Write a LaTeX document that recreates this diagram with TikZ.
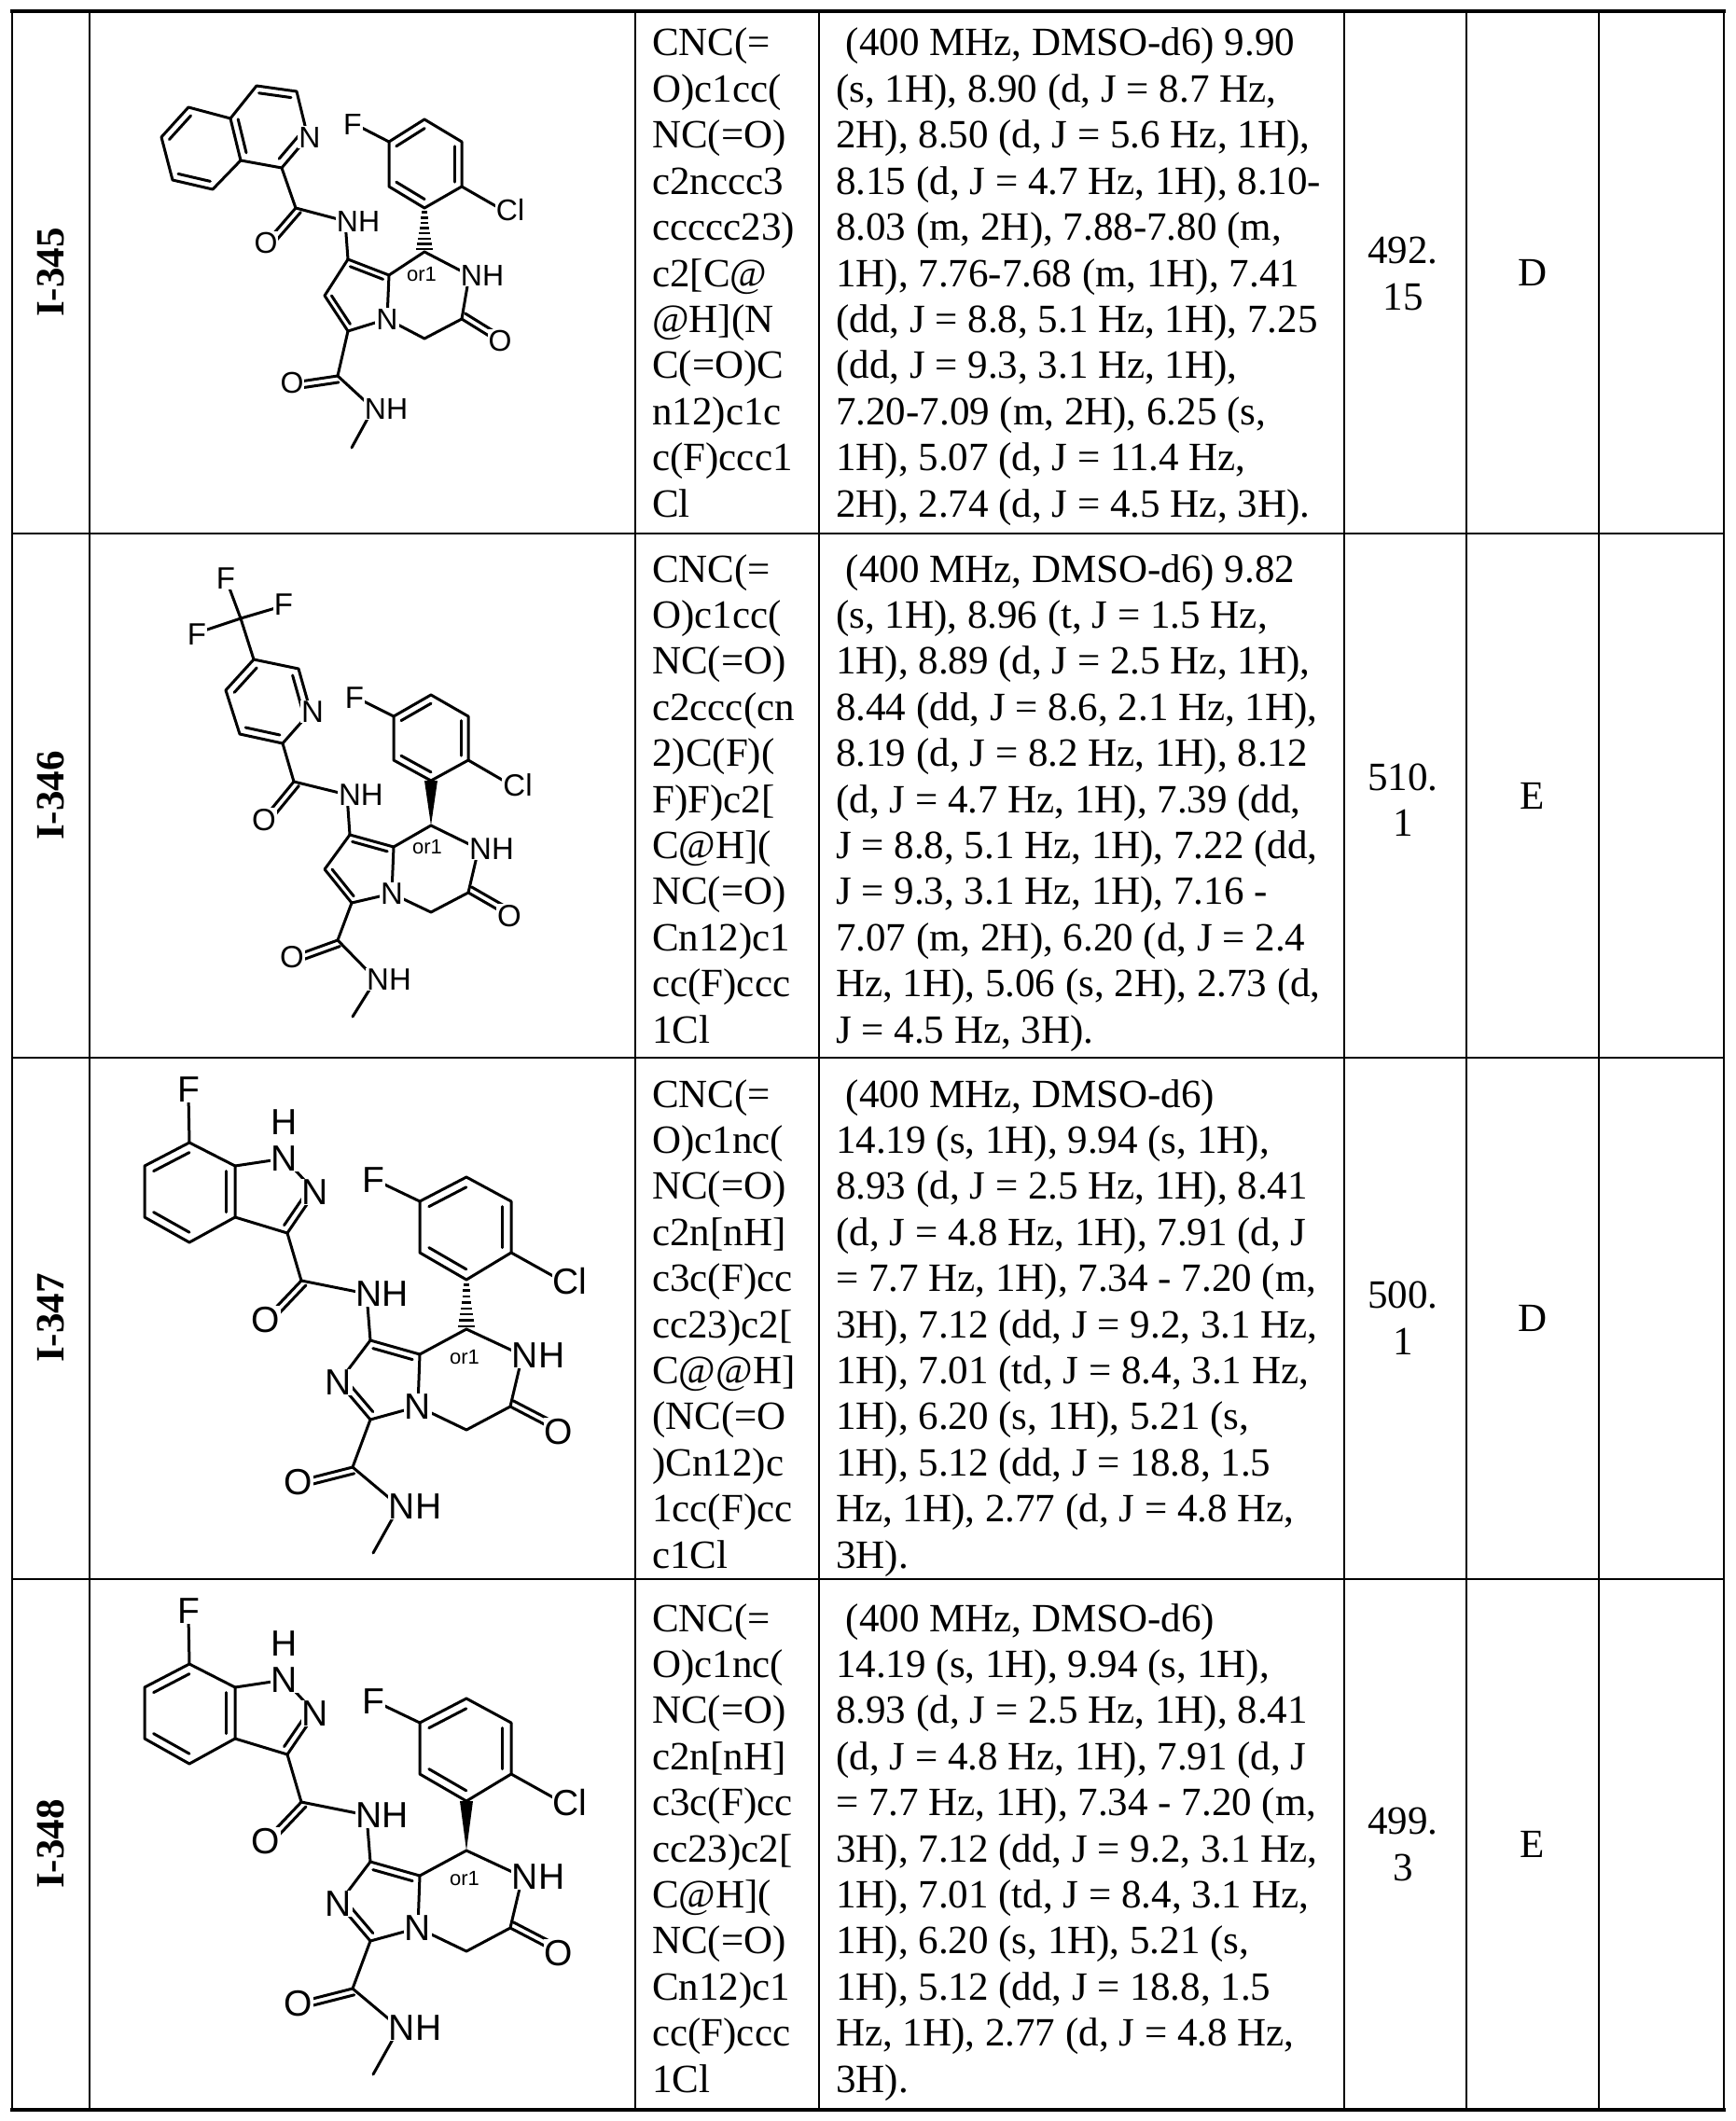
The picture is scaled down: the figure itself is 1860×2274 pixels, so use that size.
\documentclass[tikz,border=0pt]{standalone}
\usepackage{fontspec}
\setmainfont{Liberation Serif}
\newfontfamily\arial{Liberation Sans}
\usetikzlibrary{calc}
\newcommand\inb[3]{\draw ($(#1)!0.2!(#3)$) -- ($(#2)!0.2!(#3)$);}
\newcommand\exo[2]{\draw ($(#1)!7pt!90:(#2)$) -- ($(#2)!7pt!-90:(#1)$);}
\newcommand\hsh[2]{\foreach \t in {0.1,0.22,...,0.95}{\draw[line width=2.4pt,line cap=butt] ($(#1)!\t!(#2)$) ++(-2-7*\t,0) -- ++(4+14*\t,0);}}
\newcommand\wdg[2]{\fill (#1) -- ($(#2)+(-7,0)$) -- ($(#2)+(7,0)$) -- cycle;}
\newcommand\txtlines[3]{\foreach \s [count=\i] in {#3}{\node[txt] at (#1,#2+14+49.4*\i-49.4) {\s};}}
\tikzset{
  txt/.style={anchor=base west,inner sep=0pt,font=\fontsize{43}{49.4}\selectfont},
  ctxt/.style={anchor=base,inner sep=0pt,font=\fontsize{43}{49.4}\selectfont},
  idt/.style={rotate=90,inner sep=0pt,font=\fontsize{43}{49.4}\selectfont\bfseries},
  lab/.style={fill=white,inner sep=1pt,font=\arial\fontsize{\labsz}{\labsz}\selectfont},
  orl/.style={inner sep=0pt,font=\arial\fontsize{22}{22}\selectfont},
  grid/.style={line width=2.6pt},
  bond/.style={line width=3pt,line join=round,line cap=round}
}
\def\labsz{28}
\begin{document}
\begin{tikzpicture}[x=1pt,y=-1pt]
\useasboundingbox (0,0) rectangle (1860,2274);
\fill[white] (0,0) rectangle (1860,2274);
% grid
\foreach \xx in {13,96,681,878,1441,1572,1714,1848}{\draw[grid] (\xx,12) -- (\xx,2262);}
\foreach \yy in {572,1134,1693}{\draw[grid] (13,\yy) -- (1848,\yy);}
\draw[line width=3.5pt] (11,12) -- (1850,12);
\draw[line width=3.5pt] (11,2262) -- (1850,2262);
% IDs
\node[idt] (id1) at (54,292) {I-345};
\node[idt] (id2) at (54,853) {I-346};
\node[idt] (id3) at (54,1413) {I-347};
\node[idt] (id4) at (54,1977) {I-348};
% mass / class
\node[ctxt] (m1a) at (1504,283) {492.}; \node[ctxt] (m1b) at (1504,332) {15};
\node[ctxt] (m2a) at (1504,847) {510.}; \node[ctxt] (m2b) at (1504,896) {1};
\node[ctxt] (m3a) at (1504,1402) {500.}; \node[ctxt] (m3b) at (1504,1452) {1};
\node[ctxt] (m4a) at (1504,1966) {499.}; \node[ctxt] (m4b) at (1504,2016) {3};
\node[ctxt] (c1) at (1643,306) {D};
\node[ctxt] (c2) at (1643,867) {E};
\node[ctxt] (c3) at (1643,1427) {D};
\node[ctxt] (c4) at (1643,1991) {E};
% SMILES
\txtlines{699}{46}{CNC(=,O)c1cc(,NC(=O),c2nccc3,ccccc23),c2[C@,@H](N,C(=O)C,n12)c1c,c(F)ccc1,Cl}
\txtlines{699}{610}{CNC(=,O)c1cc(,NC(=O),c2ccc(cn,{2)C(F)(},F)F)c2[,C@H](,NC(=O),Cn12)c1,cc(F)ccc,1Cl}
\txtlines{699}{1173}{CNC(=,O)c1nc(,NC(=O),c2n[nH],c3c(F)cc,cc23)c2[,C@@H],{(NC(=O},{)Cn12)c},1cc(F)cc,c1Cl}
\txtlines{699}{1735}{CNC(=,O)c1nc(,NC(=O),c2n[nH],c3c(F)cc,cc23)c2[,C@H](,NC(=O),Cn12)c1,cc(F)ccc,1Cl}
% NMR
\txtlines{896}{46}{{\ (400 MHz, DMSO-d6) 9.90},{(s, 1H), 8.90 (d, J = 8.7 Hz,},{2H), 8.50 (d, J = 5.6 Hz, 1H),},{8.15 (d, J = 4.7 Hz, 1H), 8.10-},{8.03 (m, 2H), 7.88-7.80 (m,},{1H), 7.76-7.68 (m, 1H), 7.41},{(dd, J = 8.8, 5.1 Hz, 1H), 7.25},{(dd, J = 9.3, 3.1 Hz, 1H),},{7.20-7.09 (m, 2H), 6.25 (s,},{1H), 5.07 (d, J = 11.4 Hz,},{2H), 2.74 (d, J = 4.5 Hz, 3H).}}
\txtlines{896}{610}{{\ (400 MHz, DMSO-d6) 9.82},{(s, 1H), 8.96 (t, J = 1.5 Hz,},{1H), 8.89 (d, J = 2.5 Hz, 1H),},{8.44 (dd, J = 8.6, 2.1 Hz, 1H),},{8.19 (d, J = 8.2 Hz, 1H), 8.12},{(d, J = 4.7 Hz, 1H), 7.39 (dd,},{J = 8.8, 5.1 Hz, 1H), 7.22 (dd,},{J = 9.3, 3.1 Hz, 1H), 7.16 -},{7.07 (m, 2H), 6.20 (d, J = 2.4},{Hz, 1H), 5.06 (s, 2H), 2.73 (d,},{J = 4.5 Hz, 3H).}}
\txtlines{896}{1173}{{\ (400 MHz, DMSO-d6)},{14.19 (s, 1H), 9.94 (s, 1H),},{8.93 (d, J = 2.5 Hz, 1H), 8.41},{(d, J = 4.8 Hz, 1H), 7.91 (d, J},{= 7.7 Hz, 1H), 7.34 - 7.20 (m,},{3H), 7.12 (dd, J = 9.2, 3.1 Hz,},{1H), 7.01 (td, J = 8.4, 3.1 Hz,},{1H), 6.20 (s, 1H), 5.21 (s,},{1H), 5.12 (dd, J = 18.8, 1.5},{Hz, 1H), 2.77 (d, J = 4.8 Hz,},{3H).}}
\txtlines{896}{1735}{{\ (400 MHz, DMSO-d6)},{14.19 (s, 1H), 9.94 (s, 1H),},{8.93 (d, J = 2.5 Hz, 1H), 8.41},{(d, J = 4.8 Hz, 1H), 7.91 (d, J},{= 7.7 Hz, 1H), 7.34 - 7.20 (m,},{3H), 7.12 (dd, J = 9.2, 3.1 Hz,},{1H), 7.01 (td, J = 8.4, 3.1 Hz,},{1H), 6.20 (s, 1H), 5.21 (s,},{1H), 5.12 (dd, J = 18.8, 1.5},{Hz, 1H), 2.77 (d, J = 4.8 Hz,},{3H).}}
% ===== structure 1 =====
\begin{scope}[bond]
\def\labsz{32}
\draw (302,180)--(330,147)--(318,98)--(275,92)--(247,127)--(258,172)--cycle;
\draw (247,127)--(202,115)--(173,147)--(185,193)--(228,203)--(258,172);
\inb{302,180}{330,147}{288,131}\inb{318,98}{275,92}{288,131}\inb{247,127}{258,172}{288,131}
\inb{202,115}{173,147}{215,160}\inb{185,193}{228,203}{215,160}
\draw (302,180)--(317,223)--(370,237)--(373,278); \exo{317,223}{285,260}\draw (317,223)--(285,260);
\draw (373,278)--(417,295)--(415,342)--(373,355)--(348,317)--cycle;
\inb{373,278}{417,295}{385,317}\inb{348,317}{373,355}{385,317}
\draw (417,295)--(455,270)--(503,295)--(495,342)--(455,363)--(415,342);
\draw (495,342)--(532,365); \exo{495,342}{532,365}
\draw (455,223)--(495,200)--(495,152)--(455,128)--(417,152)--(417,200)--cycle;
\inb{495,200}{495,152}{456,176}\inb{455,128}{417,152}{456,176}\inb{417,200}{455,223}{456,176}
\draw (495,200)--(535,223); \draw (417,152)--(380,133);
\hsh{455,223}{455,270}
\draw (373,355)--(362,403)--(400,438)--(377,480); \draw (362,403)--(315,410); \exo{362,403}{315,410}
\node[lab] (n1a) at (332,147) {N};
\node[lab] (n1b) at (384,237) {NH};
\node[lab] (n1c) at (285,260) {O};
\node[lab] (n1d) at (378,133) {F};
\node[lab] (n1e) at (547,225) {Cl};
\node[lab] (n1f) at (415,342) {N};
\node[lab] (n1g) at (517,295) {NH};
\node[lab] (n1h) at (536,365) {O};
\node[lab] (n1i) at (313,410) {O};
\node[lab] (n1j) at (414,438) {NH};
\node[orl] (o1) at (452,294) {or1};
\end{scope}
% ===== structure 2 =====
\begin{scope}[bond]
\def\labsz{33}
\draw (258,663)--(242,620); \draw (258,663)--(302,650); \draw (258,663)--(213,678); \draw (258,663)--(272,707);
\draw (272,707)--(320,717)--(333,763)--(303,797)--(257,787)--(242,740)--cycle;
\inb{272,707}{242,740}{288,752}\inb{320,717}{333,763}{288,752}\inb{303,797}{257,787}{288,752}
\draw (303,797)--(315,838)--(372,852)--(375,895); \draw (315,838)--(283,877); \exo{315,838}{283,877}
\draw (375,895)--(422,908)--(420,958)--(377,968)--(348,932)--cycle;
\inb{375,895}{422,908}{388,932}\inb{348,932}{377,968}{388,932}
\draw (422,908)--(462,885)--(513,910)--(502,957)--(462,978)--(420,958);
\draw (502,957)--(542,980); \exo{502,957}{542,980}
\draw (462,837)--(502,815)--(502,768)--(462,745)--(422,768)--(422,815)--cycle;
\inb{502,815}{502,768}{462,791}\inb{462,745}{422,768}{462,791}\inb{422,815}{462,837}{462,791}
\draw (502,815)--(545,840); \draw (422,768)--(382,748);
\wdg{462,885}{462,837}
\draw (377,968)--(362,1008)--(403,1050)--(378,1090); \draw (362,1008)--(315,1025); \exo{362,1008}{315,1025}
\node[lab] (n2a) at (242,620) {F};
\node[lab] (n2b) at (304,648) {F};
\node[lab] (n2c) at (211,680) {F};
\node[lab] (n2d) at (335,763) {N};
\node[lab] (n2e) at (387,852) {NH};
\node[lab] (n2f) at (283,879) {O};
\node[lab] (n2g) at (380,748) {F};
\node[lab] (n2h) at (555,842) {Cl};
\node[lab] (n2i) at (420,958) {N};
\node[lab] (n2j) at (527,910) {NH};
\node[lab] (n2k) at (546,982) {O};
\node[lab] (n2l) at (313,1026) {O};
\node[lab] (n2m) at (417,1050) {NH};
\node[orl] (o2) at (458,908) {or1};
\end{scope}
% ===== structures 3 and 4 =====
\foreach \sh/\kind in {0/h,559/w}{
\begin{scope}[bond,yshift=-\sh pt]
\def\labsz{39}
\draw (202,1173)--(203,1225);
\draw (203,1225)--(252,1250)--(252,1305)--(203,1332)--(155,1305)--(155,1250)--cycle;
\inb{155,1250}{203,1225}{203,1278}\inb{203,1332}{155,1305}{203,1278}\inb{252,1250}{252,1305}{203,1278}
\draw (252,1250)--(305,1242)--(338,1278)--(308,1322)--(252,1305);
\inb{308,1322}{338,1278}{291,1280}
\draw (308,1322)--(323,1373)--(393,1387)--(397,1437); \draw (323,1373)--(285,1413); \exo{323,1373}{285,1413}
\draw (397,1437)--(450,1452)--(448,1508)--(397,1522)--(363,1482)--cycle;
\inb{397,1437}{450,1452}{411,1480}\inb{363,1482}{397,1522}{411,1480}
\draw (450,1452)--(500,1425)--(560,1453)--(547,1508)--(500,1533)--(448,1508);
\draw (547,1508)--(595,1533); \exo{547,1508}{595,1533}
\draw (500,1372)--(548,1343)--(548,1288)--(500,1262)--(450,1288)--(450,1343)--cycle;
\inb{548,1343}{548,1288}{499,1316}\inb{500,1262}{450,1288}{499,1316}\inb{450,1343}{500,1372}{499,1316}
\draw (548,1343)--(600,1372); \draw (450,1288)--(402,1265);
\if\kind h \hsh{500,1372}{500,1425}\else \wdg{500,1425}{500,1372}\fi
\draw (397,1522)--(378,1573)--(428,1615)--(400,1665); \draw (378,1573)--(323,1587); \exo{378,1573}{323,1587}
\node[lab] (na) at (202,1168) {F};
\node[lab,fill=none] (nb) at (305,1203) {H};
\node[lab] (nc) at (305,1242) {N};
\node[lab] (nd) at (338,1278) {N};
\node[lab] (ne) at (285,1415) {O};
\node[lab] (nf) at (410,1387) {NH};
\node[lab] (ng) at (363,1482) {N};
\node[lab] (nh) at (448,1508) {N};
\node[lab] (ni) at (577,1453) {NH};
\node[lab] (nj) at (599,1535) {O};
\node[lab] (nk) at (320,1589) {O};
\node[lab] (nl) at (445,1615) {NH};
\node[lab] (nm) at (400,1265) {F};
\node[lab] (nn) at (611,1374) {Cl};
\node[orl] (no) at (498,1455) {or1};
\end{scope}}
\end{tikzpicture}
\end{document}
